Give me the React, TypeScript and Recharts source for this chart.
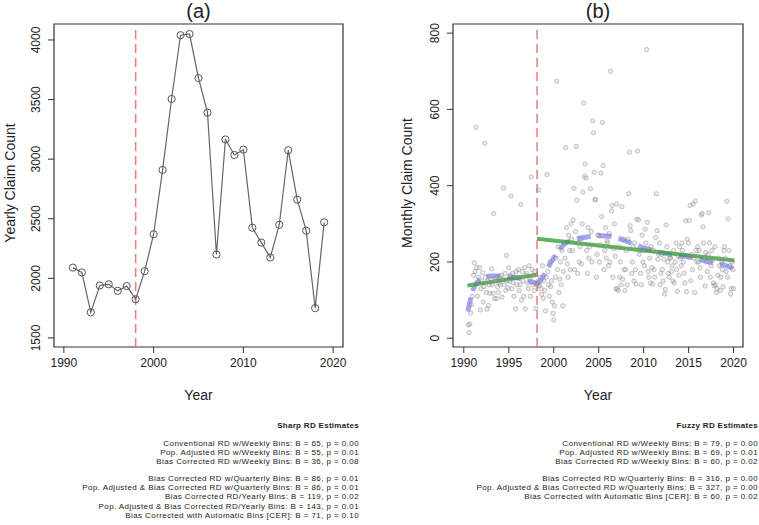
import React from "react";
import {
  ComposedChart,
  Line,
  Scatter,
  XAxis,
  YAxis,
  ReferenceLine,
  ReferenceArea,
} from "recharts";

// panel (a): yearly claim counts
const years = [
  1991, 1992, 1993, 1994, 1995, 1996, 1997, 1998, 1999, 2000, 2001, 2002, 2003, 2004, 2005,
  2006, 2007, 2008, 2009, 2010, 2011, 2012, 2013, 2014, 2015, 2016, 2017, 2018, 2019,
];
const yearlyClaims = [
  2090, 2050, 1715, 1940, 1950, 1895, 1935, 1825, 2060, 2370, 2910, 3505, 4040, 4050, 3680,
  3390, 2200, 3165, 3035, 3080, 2425, 2300, 2175, 2450, 3075, 2660, 2400, 1750, 2470,
];

// panel (b): monthly claim counts, starting July 1990
const monthlyStart = 1990.5;
const monthlyClaims = [
  // 1990 (Jul-Dec)
  35, 15, 37, 66, 88, 110,
  // 1991
  140, 165, 198, 175, 553, 185, 110, 145, 160, 185, 74, 130,
  // 1992
  150, 172, 95, 135, 511, 160, 120, 76, 150, 86, 140, 118,
  // 1993
  155, 182, 140, 118, 327, 104, 150, 160, 104, 135, 120, 145,
  // 1994
  160, 140, 165, 108, 155, 394, 140, 170, 125, 217, 150, 132,
  // 1995
  185, 150, 165, 373, 130, 170, 145, 110, 160, 77, 175, 140,
  // 1996
  160, 180, 125, 140, 351, 100, 175, 150, 110, 185, 77, 165,
  // 1997
  170, 145, 130, 190, 155, 110, 423, 180, 140, 165, 125, 175,
  // 1998
  78, 140, 145, 150, 389, 138, 160, 130, 115, 190, 105, 150,
  // 1999
  125, 72, 160, 429, 175, 140, 110, 200, 135, 150, 95, 65,
  // 2000
  48, 85, 160, 210, 674, 180, 240, 120, 155, 200, 140, 230,
  // 2001
  85, 175, 250, 210, 500, 290, 195, 160, 270, 230, 180, 300,
  // 2002
  260, 230, 310, 393, 180, 280, 503, 362, 170, 250, 200, 240,
  // 2003
  260, 195, 300, 383, 617, 425, 457, 420, 230, 170, 290, 210,
  // 2004
  240, 392, 280, 200, 570, 539, 435, 363, 364, 160, 220, 270,
  // 2005
  270, 200, 245, 433, 319, 566, 453, 180, 230, 290, 210, 255,
  // 2006
  250, 190, 275, 200, 700, 334, 348, 160, 235, 300, 215, 130,
  // 2007
  352, 130, 125, 240, 160, 200, 140, 345, 155, 260, 180, 125,
  // 2008
  180, 230, 140, 260, 379, 488, 295, 282, 170, 200, 240, 150,
  // 2009
  250, 180, 142, 312, 491, 310, 220, 230, 170, 140, 270, 200,
  // 2010
  230, 190, 286, 250, 757, 304, 175, 160, 210, 145, 240, 185,
  // 2011
  142, 230, 180, 160, 264, 379, 282, 207, 220, 250, 140, 170,
  // 2012
  220, 180, 150, 207, 116, 128, 297, 240, 200, 170, 160, 210,
  // 2013
  210, 175, 190, 150, 230, 145, 200, 250, 180, 123, 215, 165,
  // 2014
  240, 210, 190, 250, 230, 200, 170, 145, 308, 122, 260, 215,
  // 2015
  250, 309, 348, 151, 220, 180, 352, 210, 120, 360, 230, 200,
  // 2016
  240, 200, 230, 185, 160, 323, 327, 292, 250, 210, 137, 225,
  // 2017
  200, 175, 220, 329, 250, 160, 190, 230, 205, 145, 138, 240,
  // 2018
  140, 120, 130, 165, 210, 190, 125, 160, 200, 180, 135, 230,
  // 2019
  240, 210, 175, 359, 160, 313, 230, 190, 116, 130, 200, 180,
  // 2020 (Jan)
  130,
];

// linear RD fits (green)
const fitPreYears = [1990.4, 1998.25];
const fitPreValues = [138, 167];
const fitPostYears = [1998.15, 2020.1];
const fitPostValues = [261, 204];

// smoothed curves (blue dashed)
const smoothPreYears = [1990.45, 1991, 1991.5, 1992, 1993, 1994, 1995, 1996, 1997, 1998.15];
const smoothPreValues = [70, 125, 147, 157, 163, 163, 161, 158, 152, 143];
const smoothPostYears = [
  1998.15, 1999, 1999.6, 2000.5, 2001.25, 2002, 2003, 2004, 2005, 2006, 2007, 2008, 2009,
  2010, 2011, 2012, 2013, 2014, 2015, 2016, 2017, 2018, 2019, 2020,
];
const smoothPostValues = [
  140, 168, 195, 228, 248, 257, 263, 267, 269, 268, 263, 255, 246, 237, 230, 224, 220, 216,
  213, 208, 202, 197, 192, 182,
];

const cutoffA = 1998;
const cutoffB = 1998.15;

const sharpTop = [
  "Conventional RD w/Weekly Bins: B = 65, p = 0.00",
  "Pop. Adjusted RD w/Weekly Bins: B = 55, p = 0.01",
  "Bias Corrected RD w/Weekly Bins: B = 36, p = 0.08",
];
const sharpBottom = [
  "Bias Corrected RD w/Quarterly Bins: B = 86, p = 0.01",
  "Pop. Adjusted & Bias Corrected RD w/Quarterly Bins: B = 86, p = 0.01",
  "Bias Corrected RD/Yearly Bins: B = 119, p = 0.02",
  "Pop. Adjusted & Bias Corrected RD/Yearly Bins: B = 143, p = 0.01",
  "Bias Corrected with Automatic Bins [CER]: B = 71, p = 0.10",
];
const fuzzyTop = [
  "Conventional RD w/Weekly Bins: B = 79, p = 0.00",
  "Pop. Adjusted RD w/Weekly Bins: B = 69, p = 0.01",
  "Bias Corrected RD w/Weekly Bins: B = 60, p = 0.02",
];
const fuzzyBottom = [
  "Bias Corrected RD w/Quarterly Bins: B = 316, p = 0.00",
  "Pop. Adjusted & Bias Corrected RD w/Quarterly Bins: B = 327, p = 0.00",
  "Bias Corrected with Automatic Bins [CER]: B = 60, p = 0.02",
];

const FONT = "'Liberation Sans', Arial, Helvetica, sans-serif";
const INK = "#222";

const yearlyData = years.map((y, i) => ({ year: y, claims: yearlyClaims[i] }));
const monthlyData = monthlyClaims.map((v, i) => ({ year: monthlyStart + i / 12, claims: v }));
const pairs = (xs: number[], ys: number[]) => xs.map((x, i) => ({ year: x, claims: ys[i] }));

const VerticalTick = (props: any) => {
  const { x, y, payload } = props;
  const bx = x - 6;
  return (
    <text
      x={bx}
      y={y}
      transform={`rotate(-90, ${bx}, ${y})`}
      textAnchor="middle"
      fontSize={12}
      fontFamily={FONT}
      fill={INK}
    >
      {payload.value}
    </text>
  );
};

const GrayDot = (props: any) => (
  <circle
    cx={props.cx}
    cy={props.cy}
    r={2.2}
    fill="#aaa"
    fillOpacity={0.25}
    stroke="#777"
    strokeOpacity={0.45}
    strokeWidth={0.8}
  />
);

function Label({ text, cx, cy, size, rotate }: { text: string; cx: number; cy: number; size: number; rotate?: boolean }) {
  return (
    <div
      style={{
        position: "absolute",
        left: cx,
        top: cy,
        transform: `translate(-50%, -50%)${rotate ? " rotate(-90deg)" : ""}`,
        fontSize: size,
        lineHeight: `${size + 2}px`,
        whiteSpace: "nowrap",
        color: INK,
      }}
    >
      {text}
    </div>
  );
}

// small estimate tables under the panels
const ROW = 9.3;

function TextBlock({ title, top, bottom, right }: { title: string; top: string[]; bottom: string[]; right: number }) {
  const rows: Array<{ text: string; cy: number; bold?: boolean }> = [{ text: title, cy: 426, bold: true }];
  top.forEach((t, i) => rows.push({ text: t, cy: 443.5 + i * ROW }));
  bottom.forEach((t, i) => rows.push({ text: t, cy: 478.5 + i * ROW }));
  return (
    <>
      {rows.map((r, i) => (
        <div
          key={i}
          style={{
            position: "absolute",
            right: 759 - right,
            top: r.cy - ROW / 2,
            height: ROW,
            lineHeight: `${ROW}px`,
            fontSize: 8,
            letterSpacing: r.bold ? "0.3px" : "0.42px",
            fontWeight: r.bold ? 700 : 400,
            whiteSpace: "nowrap",
            color: INK,
          }}
        >
          {r.text}
        </div>
      ))}
    </>
  );
}

export default function App() {
  const xDomA: [number, number] = [1988.9, 2021.1];
  const yDomA: [number, number] = [1424, 4134];
  const xDomB: [number, number] = [1988.8, 2021.05];
  const yDomB: [number, number] = [-23, 824];

  return (
    <div
      style={{
        position: "absolute",
        left: 0,
        top: 0,
        width: 759,
        height: 525,
        background: "#fff",
        fontFamily: FONT,
        overflow: "hidden",
      }}
    >
      <div style={{ position: "absolute", left: 0, top: 0 }}>
        <ComposedChart width={380} height={380} margin={{ top: 24, right: 37, bottom: 0, left: 0 }}>
          <XAxis
            dataKey="year"
            type="number"
            domain={xDomA}
            ticks={[1990, 2000, 2010, 2020]}
            allowDataOverflow
            axisLine={false}
            tickSize={6}
            tickMargin={5}
            height={33}
            tickLine={{ stroke: "#333" }}
            tick={{ fontSize: 12, fill: INK, fontFamily: FONT }}
          />
          <YAxis
            type="number"
            domain={yDomA}
            ticks={[1500, 2000, 2500, 3000, 3500, 4000]}
            allowDataOverflow
            axisLine={false}
            tickSize={6}
            width={54}
            tickLine={{ stroke: "#333" }}
            tick={<VerticalTick />}
          />
          <ReferenceArea
            x1={xDomA[0]}
            x2={xDomA[1]}
            y1={yDomA[0]}
            y2={yDomA[1]}
            fill="none"
            fillOpacity={0}
            stroke="#333"
            strokeWidth={1.2}
            ifOverflow="visible"
          />
          <ReferenceLine x={cutoffA} stroke="#f27878" strokeWidth={1.5} strokeDasharray="9 5" />
          <Line
            data={yearlyData}
            dataKey="claims"
            type="linear"
            stroke="#666"
            strokeWidth={1.2}
            dot={{ r: 3.6, fill: "none", stroke: "#555", strokeWidth: 1 }}
            isAnimationActive={false}
          />
        </ComposedChart>
      </div>

      <div style={{ position: "absolute", left: 380, top: 0 }}>
        <ComposedChart width={379} height={380} margin={{ top: 24, right: 16, bottom: 0, left: 0 }}>
          <XAxis
            dataKey="year"
            type="number"
            domain={xDomB}
            ticks={[1990, 1995, 2000, 2005, 2010, 2015, 2020]}
            allowDataOverflow
            axisLine={false}
            tickSize={6}
            tickMargin={5}
            height={33}
            tickLine={{ stroke: "#333" }}
            tick={{ fontSize: 12, fill: INK, fontFamily: FONT }}
          />
          <YAxis
            dataKey="claims"
            type="number"
            domain={yDomB}
            ticks={[0, 200, 400, 600, 800]}
            allowDataOverflow
            axisLine={false}
            tickSize={6}
            width={73}
            tickLine={{ stroke: "#333" }}
            tick={<VerticalTick />}
          />
          <ReferenceArea
            x1={xDomB[0]}
            x2={xDomB[1]}
            y1={yDomB[0]}
            y2={yDomB[1]}
            fill="none"
            fillOpacity={0}
            stroke="#333"
            strokeWidth={1.2}
            ifOverflow="visible"
          />
          <Scatter data={monthlyData} dataKey="claims" shape={<GrayDot />} isAnimationActive={false} />
          <Line
            data={pairs(smoothPreYears, smoothPreValues)}
            dataKey="claims"
            type="monotone"
            stroke="#8585f5"
            strokeOpacity={0.75}
            strokeWidth={5}
            strokeDasharray="14 7"
            dot={false}
            isAnimationActive={false}
          />
          <Line
            data={pairs(smoothPostYears, smoothPostValues)}
            dataKey="claims"
            type="monotone"
            stroke="#8585f5"
            strokeOpacity={0.75}
            strokeWidth={5}
            strokeDasharray="14 7"
            dot={false}
            isAnimationActive={false}
          />
          <Line
            data={pairs(fitPreYears, fitPreValues)}
            dataKey="claims"
            type="linear"
            stroke="#36a036"
            strokeOpacity={0.8}
            strokeWidth={4}
            dot={false}
            isAnimationActive={false}
          />
          <Line
            data={pairs(fitPostYears, fitPostValues)}
            dataKey="claims"
            type="linear"
            stroke="#36a036"
            strokeOpacity={0.8}
            strokeWidth={4}
            dot={false}
            isAnimationActive={false}
          />
          <ReferenceLine x={cutoffB} stroke="#f27878" strokeWidth={1.5} strokeDasharray="9 5" />
        </ComposedChart>
      </div>

      <Label text="(a)" cx={198.5} cy={11} size={20} />
      <Label text="(b)" cx={598} cy={11} size={20} />
      <Label text="Year" cx={198.5} cy={395} size={14} />
      <Label text="Year" cx={598} cy={395} size={14} />
      <Label text="Yearly Claim Count" cx={10} cy={183} size={14} rotate />
      <Label text="Monthly Claim Count" cx={407} cy={183} size={14} rotate />

      <TextBlock title="Sharp RD Estimates" top={sharpTop} bottom={sharpBottom} right={359} />
      <TextBlock title="Fuzzy RD Estimates" top={fuzzyTop} bottom={fuzzyBottom} right={758} />
    </div>
  );
}
